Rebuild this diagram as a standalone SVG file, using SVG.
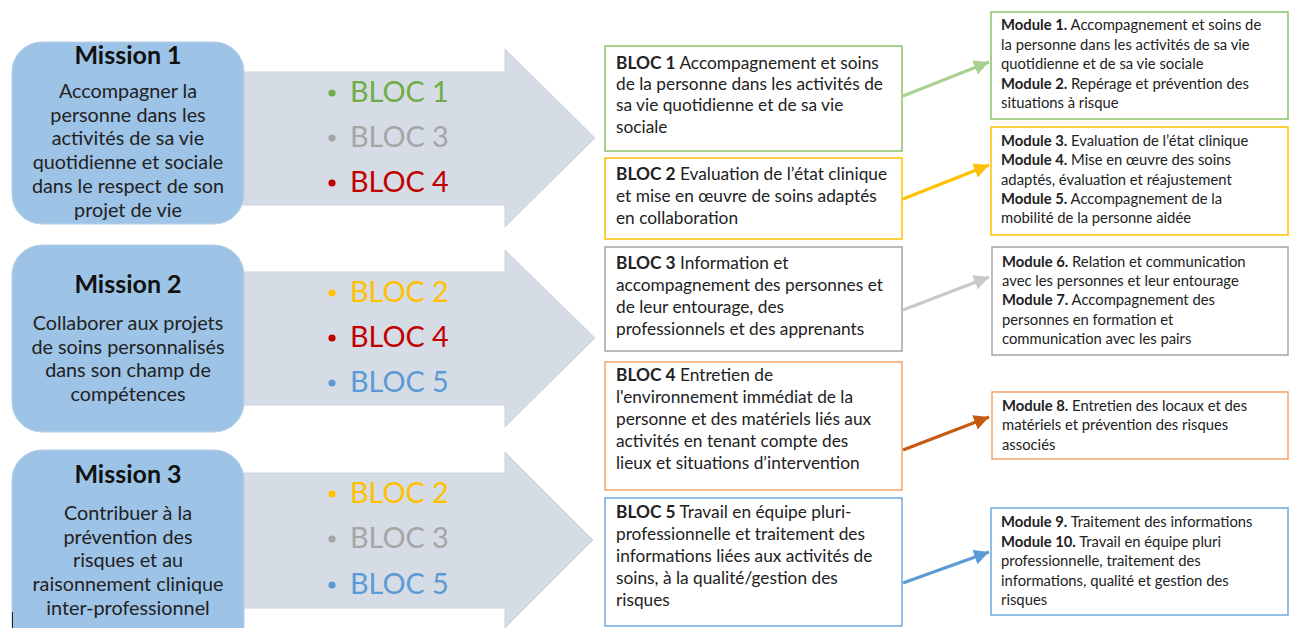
<svg xmlns="http://www.w3.org/2000/svg" width="1291" height="628" viewBox="0 0 1291 628">
<defs>
<style>
text{font-family:Lato,"Open Sans","Liberation Sans",sans-serif;fill:#222}
.mbox{fill:#9DC3E6;stroke:#B4D0EA;stroke-width:1}
.arr{fill:#D6DCE5;stroke:#CDD3DC;stroke-width:1}
.mt{font-size:25px;font-weight:bold;text-anchor:middle;fill:#111}
.md{font-size:19.8px;text-anchor:middle}
.bl{font-size:28.8px}
.bt{font-size:17.3px}
.mo{font-size:14.8px}
.b{font-weight:bold}
.box{fill:#fff;stroke-width:1.5}
.con{fill:none;stroke-width:3}
</style>
<marker id="ag" viewBox="0 0 10 10" refX="10" refY="5" markerWidth="5" markerHeight="5" orient="auto" markerUnits="strokeWidth"><path d="M0,0L10,5L0,10z" fill="#A9D18E"/></marker>
<marker id="ay" viewBox="0 0 10 10" refX="10" refY="5" markerWidth="5" markerHeight="5" orient="auto" markerUnits="strokeWidth"><path d="M0,0L10,5L0,10z" fill="#FFC000"/></marker>
<marker id="ak" viewBox="0 0 10 10" refX="10" refY="5" markerWidth="5" markerHeight="5" orient="auto" markerUnits="strokeWidth"><path d="M0,0L10,5L0,10z" fill="#C9C9C9"/></marker>
<marker id="ao" viewBox="0 0 10 10" refX="10" refY="5" markerWidth="5" markerHeight="5" orient="auto" markerUnits="strokeWidth"><path d="M0,0L10,5L0,10z" fill="#C55A11"/></marker>
<marker id="ab" viewBox="0 0 10 10" refX="10" refY="5" markerWidth="5" markerHeight="5" orient="auto" markerUnits="strokeWidth"><path d="M0,0L10,5L0,10z" fill="#5B9BD5"/></marker>
</defs>
<rect width="1291" height="628" fill="#fff"/>

<!-- Mission 1 -->
<g id="arrow1"><path class="arr" d="M240,72H505V49L595,138L505,227V205H240Z"/>
<circle cx="332" cy="93" r="3.6" fill="#70AD47"/><text class="bl" x="350" y="102" style="fill:#70AD47">BLOC 1</text>
<circle cx="332" cy="138" r="3.6" fill="#A5A5A5"/><text class="bl" x="350" y="147" style="fill:#A5A5A5">BLOC 3</text>
<circle cx="332" cy="183" r="3.6" fill="#C00000"/><text class="bl" x="350" y="192" style="fill:#C00000">BLOC 4</text></g>
<g id="mission1"><rect class="mbox" x="12" y="42" width="232" height="182" rx="30"/>
<text class="mt" x="128" y="64">Mission 1</text>
<text class="md" x="128" y="98">Accompagner la</text>
<text class="md" x="128" y="122">personne dans les</text>
<text class="md" x="128" y="145">activités de sa vie</text>
<text class="md" x="128" y="169">quotidienne et sociale</text>
<text class="md" x="128" y="193">dans le respect de son</text>
<text class="md" x="128" y="217">projet de vie</text></g>

<!-- Mission 2 -->
<g id="arrow2"><path class="arr" d="M240,272H505V250L595,338L505,427V405H240Z"/>
<circle cx="332" cy="293" r="3.6" fill="#FFC000"/><text class="bl" x="350" y="302" style="fill:#FFC000">BLOC 2</text>
<circle cx="332" cy="338" r="3.6" fill="#C00000"/><text class="bl" x="350" y="347" style="fill:#C00000">BLOC 4</text>
<circle cx="332" cy="383" r="3.6" fill="#5B9BD5"/><text class="bl" x="350" y="392" style="fill:#5B9BD5">BLOC 5</text></g>
<g id="mission2"><rect class="mbox" x="12" y="245" width="232" height="187" rx="30"/>
<text class="mt" x="128" y="293">Mission 2</text>
<text class="md" x="128" y="330">Collaborer aux projets</text>
<text class="md" x="128" y="354">de soins personnalisés</text>
<text class="md" x="128" y="377">dans son champ de</text>
<text class="md" x="128" y="401">compétences</text></g>

<!-- Mission 3 -->
<g id="arrow3"><path class="arr" d="M240,473H505V452L593,540L505,628V608H240Z"/>
<circle cx="332" cy="494" r="3.6" fill="#FFC000"/><text class="bl" x="350" y="503" style="fill:#FFC000">BLOC 2</text>
<circle cx="332" cy="539" r="3.6" fill="#A5A5A5"/><text class="bl" x="350" y="548" style="fill:#A5A5A5">BLOC 3</text>
<circle cx="332" cy="585" r="3.6" fill="#5B9BD5"/><text class="bl" x="350" y="594" style="fill:#5B9BD5">BLOC 5</text></g>
<g id="mission3"><rect class="mbox" x="12" y="450" width="232" height="210" rx="30"/>
<text class="mt" x="128" y="483">Mission 3</text>
<text class="md" x="128" y="520">Contribuer à la</text>
<text class="md" x="128" y="544">prévention des</text>
<text class="md" x="128" y="567">risques et au</text>
<text class="md" x="128" y="591">raisonnement clinique</text>
<text class="md" x="128" y="615">inter-professionnel</text></g>
<line x1="12.5" y1="612" x2="12.5" y2="628" stroke="#222" stroke-width="1"/>

<!-- BLOC boxes -->
<g id="bloc1"><rect class="box" x="605" y="46" width="297" height="105" stroke="#8CC168"/>
<text class="bt" x="616" y="69"><tspan class="b">BLOC 1</tspan> Accompagnement et soins</text>
<text class="bt" x="616" y="90">de la personne dans les activités de</text>
<text class="bt" x="616" y="111">sa vie quotidienne et de sa vie</text>
<text class="bt" x="616" y="133">sociale</text></g>
<g id="bloc2"><rect class="box" x="605" y="158" width="297" height="81" stroke="#FFC000"/>
<text class="bt" x="616" y="180"><tspan class="b">BLOC 2</tspan> Evaluation de l’état clinique</text>
<text class="bt" x="616" y="202">et mise en œuvre de soins adaptés</text>
<text class="bt" x="616" y="224">en collaboration</text></g>
<g id="bloc3"><rect class="box" x="605" y="247" width="297" height="104" stroke="#A5A5A5"/>
<text class="bt" x="616" y="269"><tspan class="b">BLOC 3</tspan> Information et</text>
<text class="bt" x="616" y="291">accompagnement des personnes et</text>
<text class="bt" x="616" y="313">de leur entourage, des</text>
<text class="bt" x="616" y="335">professionnels et des apprenants</text></g>
<g id="bloc4"><rect class="box" x="605" y="362" width="297" height="128" stroke="#F4A46A"/>
<text class="bt" x="616" y="381"><tspan class="b">BLOC 4</tspan> Entretien de</text>
<text class="bt" x="616" y="403">l'environnement immédiat de la</text>
<text class="bt" x="616" y="425">personne et des matériels liés aux</text>
<text class="bt" x="616" y="447">activités en tenant compte des</text>
<text class="bt" x="616" y="469">lieux et situations d’intervention</text></g>
<g id="bloc5"><rect class="box" x="605" y="498" width="297" height="128" stroke="#6FA8DC"/>
<text class="bt" x="616" y="518"><tspan class="b">BLOC 5</tspan> Travail en équipe pluri-</text>
<text class="bt" x="616" y="540">professionnelle et traitement des</text>
<text class="bt" x="616" y="562">informations liées aux activités de</text>
<text class="bt" x="616" y="584">soins, à la qualité/gestion des</text>
<text class="bt" x="616" y="606">risques</text></g>

<!-- Module boxes -->
<g id="mod12"><rect class="box" x="991" y="12" width="297" height="107" stroke="#8CC168"/>
<text class="mo" x="1001" y="30"><tspan class="b">Module 1.</tspan> Accompagnement et soins de</text>
<text class="mo" x="1001" y="50">la personne dans les activités de sa vie</text>
<text class="mo" x="1001" y="69">quotidienne et de sa vie sociale</text>
<text class="mo" x="1001" y="89"><tspan class="b">Module 2.</tspan> Repérage et prévention des</text>
<text class="mo" x="1001" y="108">situations à risque</text></g>
<g id="mod345"><rect class="box" x="991" y="127" width="297" height="108" stroke="#FFC000"/>
<text class="mo" x="1001" y="146"><tspan class="b">Module 3.</tspan> Evaluation de l’état clinique</text>
<text class="mo" x="1001" y="165"><tspan class="b">Module 4.</tspan> Mise en œuvre des soins</text>
<text class="mo" x="1001" y="185">adaptés, évaluation et réajustement</text>
<text class="mo" x="1001" y="204"><tspan class="b">Module 5.</tspan> Accompagnement de la</text>
<text class="mo" x="1001" y="223">mobilité de la personne aidée</text></g>
<g id="mod67"><rect class="box" x="992" y="247" width="296" height="108" stroke="#A5A5A5"/>
<text class="mo" x="1002" y="267"><tspan class="b">Module 6.</tspan> Relation et communication</text>
<text class="mo" x="1002" y="286">avec les personnes et leur entourage</text>
<text class="mo" x="1002" y="305"><tspan class="b">Module 7.</tspan> Accompagnement des</text>
<text class="mo" x="1002" y="325">personnes en formation et</text>
<text class="mo" x="1002" y="344">communication avec les pairs</text></g>
<g id="mod8"><rect class="box" x="992" y="392" width="296" height="67" stroke="#F4A46A"/>
<text class="mo" x="1002" y="411"><tspan class="b">Module 8.</tspan> Entretien des locaux et des</text>
<text class="mo" x="1002" y="430">matériels et prévention des risques</text>
<text class="mo" x="1002" y="450">associés</text></g>
<g id="mod910"><rect class="box" x="991" y="508" width="297" height="107" stroke="#6FA8DC"/>
<text class="mo" x="1001" y="527"><tspan class="b">Module 9.</tspan> Traitement des informations</text>
<text class="mo" x="1001" y="547"><tspan class="b">Module 10.</tspan> Travail en équipe pluri</text>
<text class="mo" x="1001" y="566">professionnelle, traitement des</text>
<text class="mo" x="1001" y="586">informations, qualité et gestion des</text>
<text class="mo" x="1001" y="605">risques</text></g>

<!-- Connectors -->
<g id="connectors">
<line class="con" x1="903" y1="96" x2="989" y2="62" stroke="#A9D18E" marker-end="url(#ag)"/>
<line class="con" x1="903" y1="199" x2="989" y2="165" stroke="#FFC000" marker-end="url(#ay)"/>
<line class="con" x1="903" y1="310" x2="989" y2="277" stroke="#C9C9C9" marker-end="url(#ak)"/>
<line class="con" x1="903" y1="450" x2="989" y2="417" stroke="#C55A11" marker-end="url(#ao)"/>
<line class="con" x1="903" y1="583" x2="989" y2="552" stroke="#5B9BD5" marker-end="url(#ab)"/>
</g>
</svg>
